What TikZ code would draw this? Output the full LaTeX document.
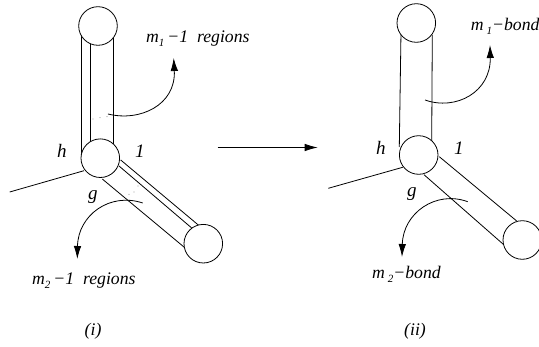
\documentclass[tikz,border=0pt]{standalone}
\usepackage{fontspec}
\setmainfont{Liberation Serif}
\usetikzlibrary{arrows.meta}
\newcommand{\subm}[1]{\raisebox{-3.5pt}{\fontsize{11}{11}\selectfont\itshape #1}}
\tikzset{
  ball/.style={circle,draw,fill=white,minimum size=38.6pt,inner sep=0pt,line width=0.8pt},
  wire/.style={line width=0.8pt},
  curvearrow/.style={line width=0.8pt,-{Latex[length=13pt,width=7.5pt]}},
  lab/.style={anchor=base west,inner sep=0pt,font=\fontsize{17.7}{17.7}\selectfont\itshape},
  big/.style={anchor=base west,inner sep=0pt,font=\fontsize{19}{19}\selectfont\itshape}
}
\begin{document}
\begin{tikzpicture}[x=1pt,y=-1pt]
\useasboundingbox (0,0) rectangle (539,347);
\clip (0,0) rectangle (539,347);
% left figure
\draw[wire] (81.7,36) -- (81.7,160);
\draw[wire] (90.7,40) -- (90.7,145);
\draw[wire] (113.3,38) -- (113.3,147);
\draw[wire] (120.7,160) -- (198.3,225);
\draw[wire] (119,166) -- (191.7,228);
\draw[wire] (102.3,179) -- (184.3,247.3);
\node[ball] (a1) at (98,26) {};
\node[ball] (a2) at (100.3,158.2) {};
\node[ball] (a3) at (203.3,243.7) {};
\coordinate (a0) at (9.7,192);
\draw[wire] (a0) -- (84,170.7);
\foreach \p/\q in {93/119,100/117.7,107/116.7,129/194.3,134/192,138/186}
  \fill (\p,\q) circle (0.4pt);
\draw[curvearrow] (108,114) .. controls (140,122) and (176,105) .. (173.7,58);
\draw[curvearrow] (142.7,203) .. controls (110,192) and (78,215) .. (77.3,259);
% main arrow
\coordinate (ma) at (217.7,147.5);
\coordinate (mb) at (317.7,147.5);
\draw[curvearrow] (ma) -- (mb);
% right figure
\draw[wire] (401,32) -- (399.3,147);
\draw[wire] (432.3,35) -- (431.7,142);
\draw[wire] (439.3,156.7) -- (516.7,221);
\draw[wire] (424,174.7) -- (503.3,244.3);
\node[ball] (b1) at (416.3,23) {};
\node[ball] (b2) at (418.7,155) {};
\node[ball] (b3) at (522.3,240) {};
\coordinate (b0) at (328.3,188.3);
\draw[wire] (b0) -- (402.7,167.3);
\draw[curvearrow] (425,100) .. controls (456,111) and (491,92) .. (490,45);
\draw[curvearrow] (467.7,201.7) .. controls (436,190) and (403,213) .. (402,257);
% labels
\node[lab] (t1) at (146,43) {m\subm{1}\,−1\ \ regions};
\node[lab] (t2) at (32,285) {m\subm{2}\,−1\ \ regions};
\node[lab] (t3) at (470.7,31) {m\,\subm{1}−bond};
\node[lab] (t4) at (372,279) {m\,\subm{2}−bond};
\node[big] (h1) at (57,158) {h};
\node[big] (o1) at (135,158) {1};
\node[big] (g1) at (88,200) {g};
\node[big] (h2) at (376,155) {h};
\node[big] (o2) at (454,155) {1};
\node[big] (g2) at (407,197) {g};
\node[lab] (c1) at (84.5,336) {(i)};
\node[lab] (c2) at (404,336) {(ii)};
\end{tikzpicture}
\end{document}
